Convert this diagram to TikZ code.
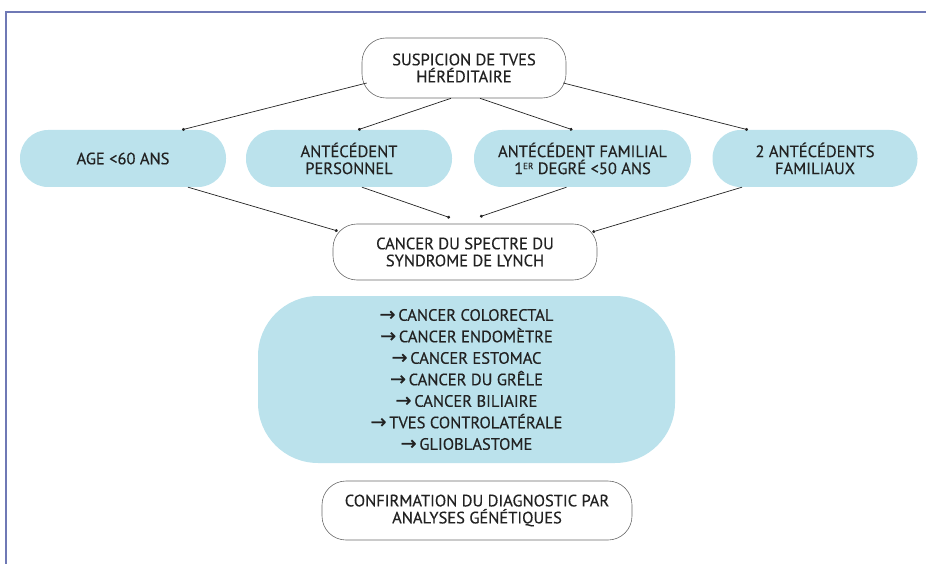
\documentclass[tikz,border=0pt]{standalone}
\usepackage{fontspec}
\setmainfont{PT Sans}[FakeBold=0.35]
\newfontfamily\arrowfont{DejaVu Sans}[FakeBold=0.6]
\usetikzlibrary{calc,arrows.meta}
\definecolor{pillblue}{HTML}{BBE2EC}
\definecolor{framecol}{HTML}{6F79B5}
\definecolor{inkcol}{HTML}{222222}
\definecolor{edgecol}{HTML}{6A6A6A}
\newcommand{\ar}{{\arrowfont\fontsize{19}{19}\selectfont →}\,}
\newcommand{\supsc}[1]{\raisebox{0.3em}{\fontsize{9}{9}\selectfont #1}}
\begin{document}
\begin{tikzpicture}[x=1pt,y=-1pt,
  txt/.style={text=inkcol,align=center,inner sep=0pt,font=\fontsize{16.5}{17}\selectfont},
  outlined/.style={txt,draw=edgecol,line width=0.6pt,fill=white,rounded corners=24pt},
  pill/.style={txt,fill=pillblue,rounded corners=28pt,minimum height=57pt},
  link/.style={draw=inkcol,line width=0.7pt,-{Circle[length=3pt]}}]
\useasboundingbox (0,0) rectangle (926,564);
% frame
\draw[framecol,line width=2pt] (6,564) -- (6,12) -- (926,12);
% nodes
\node[outlined,minimum width=204pt,minimum height=60pt] (top) at (464,68)
  {SUSPICION DE TVES\\HÉRÉDITAIRE};
\node[pill,minimum width=206pt] (p1) at (123,158.5) {AGE <60 ANS};
\node[pill,minimum width=206pt] (p2) at (349,158.5) {ANTÉCÉDENT\\PERSONNEL};
\node[pill,minimum width=217pt] (p3) at (582.5,158.5)
  {ANTÉCÉDENT FAMILIAL\\1\supsc{ER} DEGRÉ <50 ANS};
\node[pill,minimum width=205pt] (p4) at (815,158.5) {2 ANTÉCÉDENTS\\FAMILIAUX};
\node[outlined,minimum width=264pt,minimum height=56pt] (mid) at (465,252)
  {CANCER DU SPECTRE DU\\SYNDROME DE LYNCH};
\node[txt,fill=pillblue,rounded corners=60pt,minimum width=417pt,minimum height=167pt,
  font=\fontsize{16.5}{21.5}\selectfont] (list) at (466.5,379.5)
  {\ar CANCER COLORECTAL\\\ar CANCER ENDOMÈTRE\\\ar CANCER ESTOMAC\\
   \ar CANCER DU GRÊLE\\\ar CANCER BILIAIRE\\\ar TVES CONTROLATÉRALE\\\ar GLIOBLASTOME};
\node[outlined,minimum width=310pt,minimum height=59pt] (conf) at (477,510.5)
  {CONFIRMATION DU DIAGNOSTIC PAR\\ANALYSES GÉNÉTIQUES};
% connectors from the top node to the criteria
\draw[link] ($(top.west)+(5,15)$) -- ($(p1.north)+(59,0)$);
\draw[link] ($(top.south)+(-13,0)$) -- ($(p2.north)+(9,0)$);
\draw[link] ($(top.south)+(16,0)$) -- ($(p3.north)+(-10,0)$);
\draw[link] ($(top.east)+(-3,15)$) -- ($(p4.north)+(-67,0)$);
% connectors from the criteria to the spectrum node
\draw[link] ($(p1.south)+(65,0)$) -- ($(mid.west)+(5,-21)$);
\draw[link] ($(p2.south)+(13,0)$) -- ($(mid.north)+(-15,-6)$);
\draw[link] ($(p3.south)+(-16,0)$) -- ($(mid.north)+(15,-7)$);
\draw[link] ($(p4.south)+(-73,0)$) -- ($(mid.east)+(-5,-20)$);
\end{tikzpicture}
\end{document}
